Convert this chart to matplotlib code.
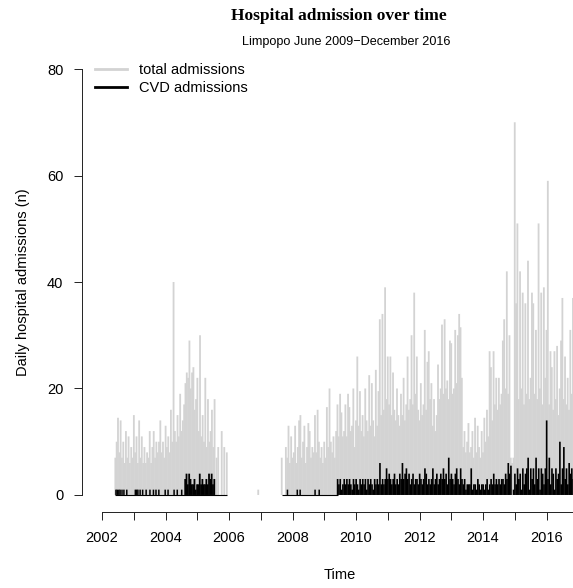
import matplotlib
matplotlib.use("Agg")
import matplotlib.pyplot as plt
import numpy as np

# ---- data (half-month samples, admissions per day) ----
STEP = 1 / 24

# total admissions, first run of records (starts mid 2002)
total_start_1 = 2002.42
total_values_1 = [7, 10, 14.5, 8, 14, 7, 10, 6, 12, 7, 11, 6, 9, 7, 15, 8, 11, 6, 14, 7,
                  11, 6, 9, 6, 8, 7, 12, 6, 9, 12, 7, 10, 8, 10, 14, 8, 10, 7, 13, 9,
                  11, 8, 16, 10, 40, 12, 10, 15, 11, 19, 12, 14, 17, 21, 23, 22, 29, 20, 23, 24,
                  16, 18, 22, 12, 30, 11, 15, 10, 22, 9, 18, 10, 12, 16, 9, 18]

# isolated total admission days between the two runs
total_extra_years = [2005.61, 2005.66, 2005.77, 2005.85, 2005.93, 2006.92, 2007.66]
total_extra_values = [7, 9, 12, 9, 8, 1, 7]

# total admissions, second run of records (late 2007 onwards)
total_start_2 = 2007.79
total_values_2 = [9, 7, 13, 6, 11, 7, 8, 13, 6, 9, 14,
                  15, 7, 10, 13, 6, 9, 13.5, 12, 7, 9, 8,
                  15, 8, 16, 10, 7, 9, 6, 10, 7, 16.5, 9,
                  20, 10, 8, 11, 7, 12, 17, 11, 19, 15.5, 11,
                  12, 17, 11, 19, 16.5, 12, 13, 20, 9, 14, 26,
                  13, 19.5, 12, 15, 11, 20, 14, 12, 22.5, 13, 21,
                  14, 11, 23.5, 13, 19.5, 33, 15, 34, 16, 39, 18,
                  26, 17, 26, 15, 23, 16, 14, 20, 15, 13, 19,
                  15, 22, 14, 17, 26, 16, 18, 30, 17, 38, 19,
                  26, 16, 14, 21, 15, 17, 31, 16, 25, 27, 18,
                  21, 13, 18, 12, 15, 24.5, 18, 20, 32, 19, 33,
                  20, 21.5, 18, 29, 28.5, 19, 20, 31, 21, 30, 34,
                  31.5, 22, 9, 12, 8, 10, 13.5, 8, 9, 12, 7,
                  14.5, 8, 13, 9, 7, 12, 8, 14.5, 10, 16, 11,
                  27, 24, 14, 27, 17, 22, 16, 22, 17, 19, 29,
                  33, 20, 42, 19, 30, 7, 6, 7, 70, 36, 51,
                  18, 42, 20, 38, 17, 36, 19, 44, 18, 22, 38,
                  36, 19, 31, 18, 51, 20, 38, 17, 39, 22, 31,
                  59, 17, 27, 24, 16, 27, 18, 28, 15, 20, 29,
                  37, 18, 26, 17, 22, 16, 31, 19, 37]

# CVD admissions: single-admission days before the dense blocks
cvd_single_years = [2002.44, 2002.48, 2002.53, 2002.57, 2002.63, 2002.69, 2002.78,
                    2003.05, 2003.09, 2003.13, 2003.20, 2003.28, 2003.39, 2003.51,
                    2003.62, 2003.70, 2003.79, 2003.99, 2004.08, 2004.27, 2004.37,
                    2004.51, 2007.84, 2008.15, 2008.24, 2008.71, 2008.84]

# CVD admissions, first block
cvd_start_1 = 2004.62
cvd_values_1 = [3, 4, 2, 4, 3, 2, 2, 3, 1, 2, 2, 4, 2, 3, 2, 2, 3, 2, 4, 3, 4, 2, 3]

# CVD admissions, second block (mid 2009 onwards)
cvd_start_2 = 2009.42
cvd_values_2 = [3, 2, 3, 1, 2, 3, 2, 3, 2, 3,
                2, 1, 3, 2, 3, 2, 1, 3, 2, 3,
                2, 3, 1, 3, 2, 3, 2, 1, 3, 2,
                3, 2, 6, 2, 3, 2, 3, 5, 3, 4,
                3, 2, 3, 4, 2, 3, 2, 4, 3, 6,
                3, 4, 5, 3, 4, 2, 3, 4, 2, 3,
                3, 2, 4, 3, 2, 3, 5, 4, 2, 3,
                2, 3, 5, 2, 3, 4, 2, 3, 4, 3,
                5, 3, 4, 2, 7, 3, 4, 3, 2, 4,
                5, 3, 2, 5, 3, 2, 3, 1, 2, 2,
                2, 5, 1, 2, 2, 1, 3, 2, 1, 2,
                2, 1, 2, 3, 1, 2, 3, 2, 4, 2,
                3, 2, 3, 2, 3, 3, 2, 4, 3, 6,
                4, 5.5, 0, 1, 4, 2, 5, 3, 4, 1,
                5, 2, 4, 5, 7, 1, 5, 3, 5, 2,
                7, 3, 5, 1, 5, 4, 2, 5, 14, 3,
                7, 2, 5, 4, 1, 5, 3, 4, 10, 2,
                5, 9, 3, 5, 2, 6, 4, 5, 3]

# periods where the CVD series sits at zero
cvd_zero_periods = [(2002.42, 2005.93), (2007.66, 2009.42)]

year_ticks = list(range(2002, 2018))

GREY = "#d3d3d3"
FONT = "Liberation Sans"
FS = 10.5


def sample_years(start, values):
    return start + np.arange(len(values)) * STEP


# ---- figure ----
fig = plt.figure(figsize=(5.73, 5.88), dpi=100)
W, H = 573, 588
# plot region in pixels (R style, region runs past the right edge)
left_px, right_px, top_px, bottom_px = 82, 598, 52, 512
ax = fig.add_axes([left_px / W, (H - bottom_px) / H,
                   (right_px - left_px) / W, (bottom_px - top_px) / H])

# total admissions
for yrs, vals in [(sample_years(total_start_1, total_values_1), total_values_1),
                  (total_extra_years, total_extra_values),
                  (sample_years(total_start_2, total_values_2), total_values_2)]:
    ax.vlines(yrs, 0, vals, color=GREY, lw=1.3, snap=False)

# CVD admissions
for a, b in cvd_zero_periods:
    ax.hlines(0, a, b, color="black", lw=0.8)
ax.vlines(cvd_single_years, 0, 1, color="black", lw=1.1, snap=False)
ax.vlines(sample_years(cvd_start_1, cvd_values_1), 0, cvd_values_1, color="black",
          lw=1.3, snap=False)
ax.vlines(sample_years(cvd_start_2, cvd_values_2), 0, cvd_values_2, color="black",
          lw=1.2, snap=False)

ax.set_xlim(2001.37, 2017.62)
ax.set_ylim(-3.2, 83.2)

# R like axes
for side in ["top", "right"]:
    ax.spines[side].set_visible(False)
ax.spines["left"].set_bounds(0, 80)
ax.spines["bottom"].set_bounds(2002, 2017)
for side in ["left", "bottom"]:
    ax.spines[side].set_linewidth(0.7)
    ax.spines[side].set_color("#222222")

ax.set_yticks([0, 20, 40, 60, 80])
ax.set_xticks(year_ticks)
ax.set_xticklabels([str(y) if y % 2 == 0 else "" for y in year_ticks])
ax.tick_params(axis="both", direction="out", length=5.5, width=0.7, color="#222222",
               labelsize=FS)
ax.tick_params(axis="y", pad=8)
ax.tick_params(axis="x", pad=8)
for lab in ax.get_xticklabels() + ax.get_yticklabels():
    lab.set_family(FONT)

ax.set_xlabel("Time", fontsize=FS, family=FONT, labelpad=17)
ax.set_ylabel("Daily hospital admissions (n)", fontsize=FS, family=FONT, labelpad=12)

# legend
ax.plot([], [], color=GREY, lw=2, label="total admissions")
ax.plot([], [], color="black", lw=2, label="CVD admissions")
ax.legend(loc="upper left", bbox_to_anchor=(0.025, 0.976), frameon=False,
          prop={"family": FONT, "size": FS}, handlelength=2.2,
          borderaxespad=0.0, borderpad=0.0, labelspacing=0.3, handletextpad=0.8)

# titles
fig.text(339 / W, 1 - 16 / H, "Hospital admission over time", ha="center", va="center",
         fontsize=12.5, fontweight="bold", family="Liberation Serif")
fig.text(346 / W, 1 - 42 / H, "Limpopo June 2009\u2212December 2016", ha="center",
         va="center", fontsize=9.1, family=FONT)

fig.savefig("out.png", dpi=100)
